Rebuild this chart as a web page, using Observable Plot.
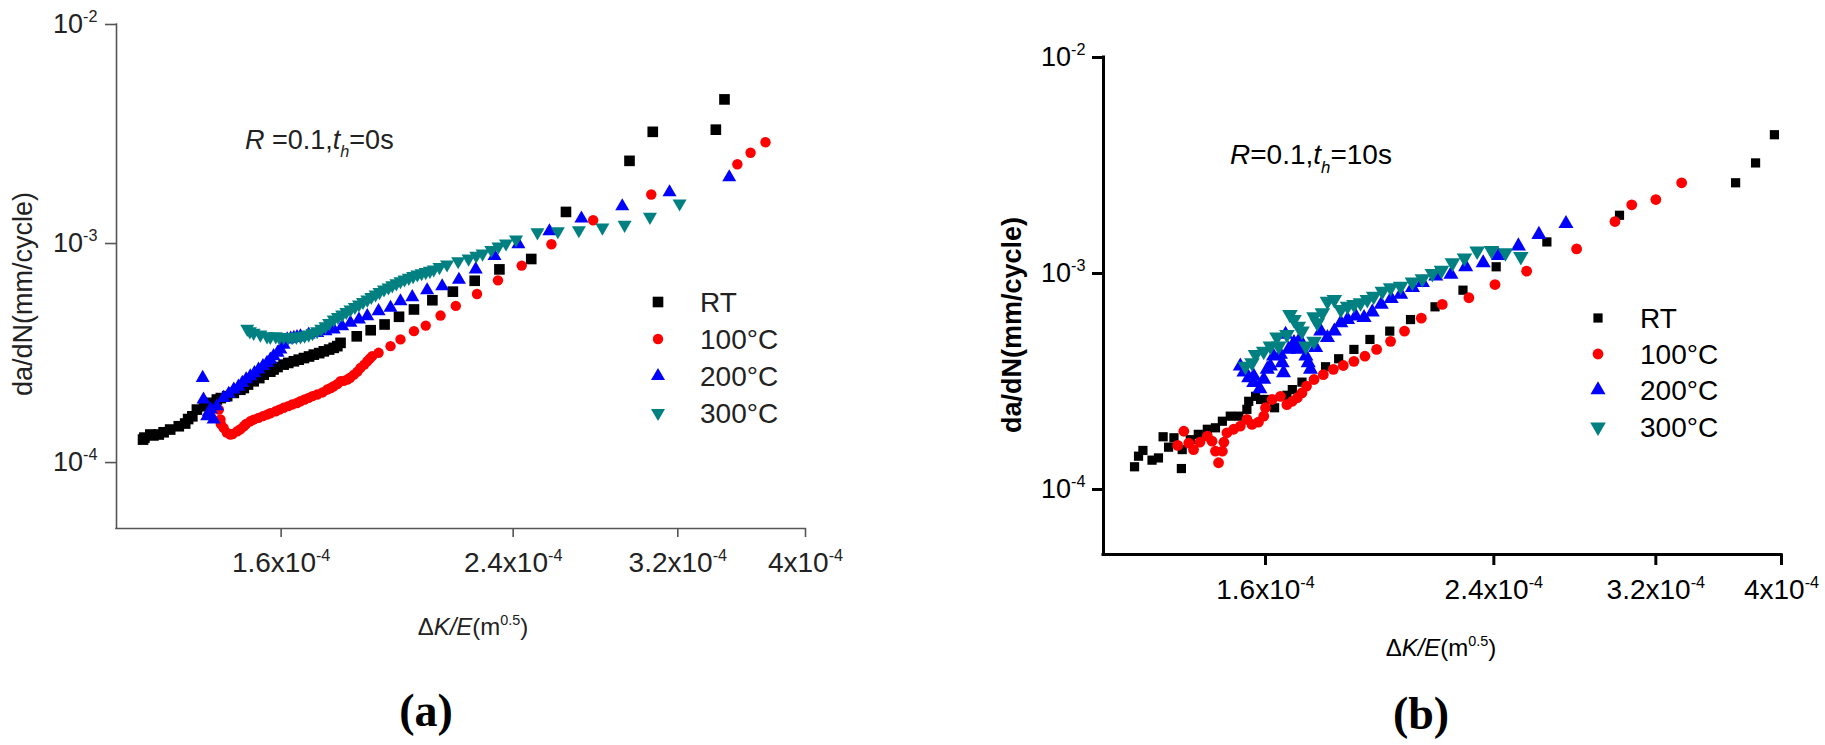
<!DOCTYPE html>
<html><head><meta charset="utf-8">
<script src="https://cdn.jsdelivr.net/npm/d3@7"></script>
<script src="https://cdn.jsdelivr.net/npm/@observablehq/plot@0.6"></script>
<style>
html,body{margin:0;padding:0;background:#fff;}
#wrap{position:relative;width:1825px;height:745px;overflow:hidden;background:#fff;}
#wrap svg{position:absolute;top:0;}
</style></head><body><div id="wrap"></div>
<script>
// ---------- shared settings ----------
const seriesNames = ["RT", "100°C", "200°C", "300°C"];
const seriesColors = ["#000000", "#ff0000", "#0000ff", "#008080"];
const seriesSymbols = ["square", "circle", "triangle", "triangle"];
const seriesRotate = [0, 0, 0, 180];
const xDomain = [1.2e-4, 4e-4];
const yDomain = [5e-5, 1e-2];
const xTicks = [1.6e-4, 2.4e-4, 3.2e-4, 4e-4];
const xTickLabels = ["1.6x10^-4", "2.4x10^-4", "3.2x10^-4", "4x10^-4"];
const yTicks = [1e-4, 1e-3, 1e-2];
const yTickLabels = ["10^-4", "10^-3", "10^-2"];

// ---------- panel (a): R=0.1, th=0s ----------  [ΔK/E, da/dN]
const aRT = [[1.257e-4,1.273e-4],[1.26e-4,1.30e-4],[1.273e-4,1.343e-4],[1.28e-4,1.33e-4],[1.292e-4,1.343e-4],[1.303e-4,1.375e-4],[1.318e-4,1.415e-4],[1.338e-4,1.465e-4],[1.353e-4,1.507e-4],[1.36e-4,1.58e-4],[1.370e-4,1.626e-4],[1.381e-4,1.745e-4],[1.398e-4,1.808e-4],[1.414e-4,1.874e-4],[1.430e-4,1.940e-4],[1.44e-4,1.97e-4],[1.456e-4,2.010e-4],[1.473e-4,2.080e-4],[1.49e-4,2.15e-4],[1.499e-4,2.190e-4],[1.51e-4,2.27e-4],[1.525e-4,2.350e-4],[1.54e-4,2.43e-4],[1.552e-4,2.520e-4],[1.57e-4,2.60e-4],[1.579e-4,2.660e-4],[1.59e-4,2.73e-4],[1.607e-4,2.800e-4],[1.62e-4,2.85e-4],[1.636e-4,2.900e-4],[1.65e-4,2.95e-4],[1.665e-4,3.000e-4],[1.68e-4,3.05e-4],[1.694e-4,3.110e-4],[1.71e-4,3.16e-4],[1.724e-4,3.220e-4],[1.74e-4,3.28e-4],[1.754e-4,3.340e-4],[1.765e-4,3.40e-4],[1.775e-4,3.520e-4],[1.826e-4,3.770e-4],[1.871e-4,4.020e-4],[1.917e-4,4.270e-4],[1.966e-4,4.630e-4],[2.018e-4,5.000e-4],[2.084e-4,5.510e-4],[2.160e-4,6.030e-4],[2.244e-4,6.760e-4],[2.343e-4,7.620e-4],[2.477e-4,8.500e-4],[2.632e-4,1.394e-3],[2.941e-4,2.385e-3],[3.063e-4,3.236e-3],[3.420e-4,3.310e-3],[3.472e-4,4.550e-3]];
const a100 = [[1.435e-4,1.745e-4],[1.439e-4,1.572e-4],[1.44e-4,1.50e-4],[1.447e-4,1.440e-4],[1.455e-4,1.37e-4],[1.464e-4,1.343e-4],[1.47e-4,1.35e-4],[1.482e-4,1.390e-4],[1.49e-4,1.42e-4],[1.499e-4,1.465e-4],[1.505e-4,1.50e-4],[1.516e-4,1.543e-4],[1.525e-4,1.57e-4],[1.538e-4,1.600e-4],[1.55e-4,1.63e-4],[1.561e-4,1.656e-4],[1.57e-4,1.68e-4],[1.585e-4,1.715e-4],[1.595e-4,1.745e-4],[1.607e-4,1.778e-4],[1.62e-4,1.81e-4],[1.631e-4,1.840e-4],[1.645e-4,1.87e-4],[1.655e-4,1.906e-4],[1.667e-4,1.94e-4],[1.679e-4,1.974e-4],[1.69e-4,2.01e-4],[1.704e-4,2.044e-4],[1.72e-4,2.09e-4],[1.734e-4,2.154e-4],[1.745e-4,2.19e-4],[1.754e-4,2.231e-4],[1.765e-4,2.28e-4],[1.775e-4,2.350e-4],[1.785e-4,2.36e-4],[1.796e-4,2.393e-4],[1.805e-4,2.44e-4],[1.817e-4,2.520e-4],[1.828e-4,2.60e-4],[1.838e-4,2.706e-4],[1.85e-4,2.80e-4],[1.860e-4,2.900e-4],[1.868e-4,2.98e-4],[1.876e-4,3.060e-4],[1.897e-4,3.170e-4],[1.937e-4,3.400e-4],[1.971e-4,3.650e-4],[2.018e-4,3.980e-4],[2.060e-4,4.220e-4],[2.114e-4,4.690e-4],[2.171e-4,5.190e-4],[2.253e-4,5.880e-4],[2.337e-4,6.790e-4],[2.436e-4,7.930e-4],[2.566e-4,9.930e-4],[2.760e-4,1.277e-3],[3.055e-4,1.674e-3],[3.551e-4,2.302e-3],[3.634e-4,2.596e-3],[3.730e-4,2.900e-3]];
const a200 = [[1.395e-4,2.436e-4],[1.397e-4,1.940e-4],[1.406e-4,1.627e-4],[1.41e-4,1.70e-4],[1.415e-4,1.75e-4],[1.422e-4,1.572e-4],[1.430e-4,1.807e-4],[1.447e-4,1.974e-4],[1.46e-4,2.06e-4],[1.473e-4,2.154e-4],[1.485e-4,2.22e-4],[1.495e-4,2.310e-4],[1.505e-4,2.40e-4],[1.516e-4,2.478e-4],[1.527e-4,2.56e-4],[1.538e-4,2.660e-4],[1.55e-4,2.76e-4],[1.561e-4,2.853e-4],[1.57e-4,2.95e-4],[1.579e-4,3.060e-4],[1.59e-4,3.17e-4],[1.598e-4,3.280e-4],[1.607e-4,3.45e-4],[1.617e-4,3.650e-4],[1.627e-4,3.68e-4],[1.636e-4,3.710e-4],[1.645e-4,3.74e-4],[1.655e-4,3.770e-4],[1.679e-4,3.840e-4],[1.704e-4,3.910e-4],[1.729e-4,3.980e-4],[1.754e-4,4.050e-4],[1.780e-4,4.190e-4],[1.806e-4,4.345e-4],[1.833e-4,4.500e-4],[1.860e-4,4.660e-4],[1.897e-4,4.910e-4],[1.937e-4,5.090e-4],[1.971e-4,5.450e-4],[2.012e-4,5.690e-4],[2.065e-4,6.120e-4],[2.120e-4,6.380e-4],[2.183e-4,6.830e-4],[2.248e-4,7.620e-4],[2.323e-4,8.770e-4],[2.422e-4,9.930e-4],[2.557e-4,1.138e-3],[2.704e-4,1.300e-3],[2.904e-4,1.480e-3],[3.154e-4,1.714e-3],[3.501e-4,2.007e-3]];
const a300 = [[1.508e-4,4.080e-4],[1.515e-4,3.97e-4],[1.525e-4,3.910e-4],[1.543e-4,3.840e-4],[1.561e-4,3.770e-4],[1.57e-4,3.75e-4],[1.585e-4,3.770e-4],[1.595e-4,3.73e-4],[1.607e-4,3.740e-4],[1.62e-4,3.73e-4],[1.631e-4,3.740e-4],[1.643e-4,3.75e-4],[1.655e-4,3.770e-4],[1.667e-4,3.80e-4],[1.679e-4,3.840e-4],[1.69e-4,3.90e-4],[1.704e-4,3.980e-4],[1.716e-4,4.08e-4],[1.729e-4,4.190e-4],[1.74e-4,4.33e-4],[1.754e-4,4.500e-4],[1.767e-4,4.62e-4],[1.780e-4,4.740e-4],[1.793e-4,4.87e-4],[1.806e-4,5.000e-4],[1.82e-4,5.13e-4],[1.833e-4,5.270e-4],[1.846e-4,5.41e-4],[1.860e-4,5.550e-4],[1.873e-4,5.70e-4],[1.887e-4,5.850e-4],[1.90e-4,6.0e-4],[1.915e-4,6.170e-4],[1.93e-4,6.3e-4],[1.943e-4,6.440e-4],[1.957e-4,6.58e-4],[1.971e-4,6.730e-4],[1.985e-4,6.85e-4],[2.000e-4,6.970e-4],[2.015e-4,7.1e-4],[2.030e-4,7.220e-4],[2.045e-4,7.32e-4],[2.060e-4,7.410e-4],[2.075e-4,7.5e-4],[2.089e-4,7.610e-4],[2.11e-4,7.8e-4],[2.138e-4,8.020e-4],[2.18e-4,8.3e-4],[2.220e-4,8.540e-4],[2.25e-4,8.8e-4],[2.275e-4,9.000e-4],[2.31e-4,9.35e-4],[2.339e-4,9.690e-4],[2.37e-4,1.0e-3],[2.412e-4,1.044e-3],[2.504e-4,1.125e-3],[2.595e-4,1.138e-3],[2.692e-4,1.150e-3],[2.805e-4,1.183e-3],[2.916e-4,1.217e-3],[3.048e-4,1.324e-3],[3.210e-4,1.523e-3]];

// ---------- panel (b): R=0.1, th=10s ----------
const bRT = [[1.268e-4,1.274e-4],[1.277e-4,1.426e-4],[1.287e-4,1.516e-4],[1.308e-4,1.367e-4],[1.323e-4,1.400e-4],[1.334e-4,1.754e-4],[1.347e-4,1.570e-4],[1.360e-4,1.735e-4],[1.378e-4,1.250e-4],[1.380e-4,1.530e-4],[1.400e-4,1.700e-4],[1.420e-4,1.800e-4],[1.443e-4,1.900e-4],[1.464e-4,1.930e-4],[1.482e-4,2.070e-4],[1.503e-4,2.185e-4],[1.526e-4,2.185e-4],[1.548e-4,2.350e-4],[1.553e-4,2.560e-4],[1.572e-4,2.700e-4],[1.586e-4,2.610e-4],[1.605e-4,2.610e-4],[1.626e-4,2.390e-4],[1.662e-4,2.730e-4],[1.678e-4,2.900e-4],[1.707e-4,3.140e-4],[1.780e-4,3.700e-4],[1.822e-4,4.030e-4],[1.872e-4,4.450e-4],[1.926e-4,4.950e-4],[1.995e-4,5.410e-4],[2.070e-4,6.120e-4],[2.162e-4,7.010e-4],[2.272e-4,8.370e-4],[2.410e-4,1.074e-3],[2.637e-4,1.400e-3],[3.000e-4,1.860e-3],[3.687e-4,2.630e-3],[3.820e-4,3.250e-3],[3.950e-4,4.390e-3]];
const b100 = [[1.369e-4,1.600e-4],[1.384e-4,1.860e-4],[1.396e-4,1.640e-4],[1.408e-4,1.530e-4],[1.424e-4,1.655e-4],[1.443e-4,1.766e-4],[1.455e-4,1.674e-4],[1.464e-4,1.504e-4],[1.472e-4,1.330e-4],[1.482e-4,1.504e-4],[1.486e-4,1.655e-4],[1.494e-4,1.830e-4],[1.512e-4,1.900e-4],[1.530e-4,1.965e-4],[1.548e-4,2.110e-4],[1.562e-4,2.000e-4],[1.580e-4,2.050e-4],[1.595e-4,2.185e-4],[1.600e-4,2.390e-4],[1.619e-4,2.610e-4],[1.643e-4,2.700e-4],[1.662e-4,2.470e-4],[1.678e-4,2.560e-4],[1.693e-4,2.660e-4],[1.707e-4,2.800e-4],[1.721e-4,3.010e-4],[1.744e-4,3.230e-4],[1.773e-4,3.400e-4],[1.805e-4,3.600e-4],[1.837e-4,3.750e-4],[1.872e-4,3.920e-4],[1.909e-4,4.140e-4],[1.949e-4,4.450e-4],[1.998e-4,4.850e-4],[2.048e-4,5.410e-4],[2.110e-4,6.210e-4],[2.190e-4,7.190e-4],[2.296e-4,7.720e-4],[2.405e-4,8.890e-4],[2.544e-4,1.025e-3],[2.780e-4,1.300e-3],[2.976e-4,1.740e-3],[3.066e-4,2.080e-3],[3.200e-4,2.200e-3],[3.350e-4,2.630e-3]];
const b200 = [[1.530e-4,3.720e-4],[1.540e-4,3.490e-4],[1.553e-4,3.290e-4],[1.567e-4,3.120e-4],[1.567e-4,3.346e-4],[1.584e-4,2.920e-4],[1.595e-4,3.230e-4],[1.605e-4,3.600e-4],[1.614e-4,3.720e-4],[1.623e-4,4.140e-4],[1.643e-4,4.220e-4],[1.648e-4,3.860e-4],[1.652e-4,3.470e-4],[1.658e-4,5.220e-4],[1.667e-4,4.450e-4],[1.683e-4,4.780e-4],[1.690e-4,4.600e-4],[1.696e-4,4.450e-4],[1.700e-4,4.950e-4],[1.719e-4,4.140e-4],[1.726e-4,3.860e-4],[1.733e-4,3.600e-4],[1.749e-4,4.530e-4],[1.765e-4,5.410e-4],[1.786e-4,5.040e-4],[1.808e-4,5.410e-4],[1.829e-4,5.910e-4],[1.851e-4,6.120e-4],[1.878e-4,6.350e-4],[1.906e-4,6.240e-4],[1.934e-4,6.620e-4],[1.965e-4,7.190e-4],[2.000e-4,7.640e-4],[2.034e-4,8.000e-4],[2.077e-4,8.590e-4],[2.114e-4,9.060e-4],[2.165e-4,9.720e-4],[2.224e-4,9.900e-4],[2.283e-4,1.074e-3],[2.355e-4,1.120e-3],[2.420e-4,1.210e-3],[2.507e-4,1.340e-3],[2.600e-4,1.515e-3],[2.728e-4,1.700e-3]];
const b300 = [[1.544e-4,3.720e-4],[1.562e-4,3.860e-4],[1.572e-4,4.220e-4],[1.595e-4,4.370e-4],[1.614e-4,4.610e-4],[1.633e-4,5.080e-4],[1.638e-4,4.610e-4],[1.662e-4,5.220e-4],[1.671e-4,6.460e-4],[1.683e-4,6.120e-4],[1.696e-4,5.700e-4],[1.707e-4,5.410e-4],[1.719e-4,4.610e-4],[1.744e-4,4.860e-4],[1.744e-4,6.300e-4],[1.754e-4,5.910e-4],[1.770e-4,6.580e-4],[1.786e-4,7.440e-4],[1.808e-4,7.580e-4],[1.829e-4,6.810e-4],[1.851e-4,7.060e-4],[1.872e-4,7.190e-4],[1.894e-4,7.320e-4],[1.917e-4,7.580e-4],[1.939e-4,7.850e-4],[1.969e-4,8.280e-4],[1.998e-4,8.590e-4],[2.034e-4,8.730e-4],[2.077e-4,9.120e-4],[2.114e-4,9.450e-4],[2.152e-4,1.000e-3],[2.187e-4,1.035e-3],[2.230e-4,1.120e-3],[2.278e-4,1.180e-3],[2.330e-4,1.270e-3],[2.390e-4,1.278e-3],[2.450e-4,1.247e-3],[2.518e-4,1.200e-3]];

// ---------- helpers ----------
function parseSup(str) {
  const m = str.split("^");
  return m.length > 1 ? [{t: m[0]}, {t: m[1], sup: true}] : [{t: str}];
}
function fillRich(sel, parts, fs) {
  sel.text(null);
  let shift = 0;
  parts.forEach(p => {
    const target = p.sup ? -0.42 * fs : p.sub ? 0.32 * fs : 0;
    const s = sel.append("tspan").text(p.t);
    if (target !== shift) s.attr("dy", target - shift);
    shift = target;
    if (p.sup || p.sub) s.attr("font-size", 0.6 * fs);
    if (p.i) s.attr("font-style", "italic");
  });
}
function addText(g, x, cy, parts, fs, o = {}) {
  const t = g.append("text")
    .attr("x", x).attr("y", cy + 0.36 * fs)
    .attr("font-size", fs)
    .attr("text-anchor", o.anchor || "start")
    .attr("fill", o.color || "#000");
  if (o.family) t.attr("font-family", o.family);
  if (o.weight) t.attr("font-weight", o.weight);
  if (o.rotate) t.attr("transform", `rotate(${o.rotate},${x},${cy})`);
  fillRich(t, parts, fs);
  return t;
}
const symTypes = {square: d3.symbolSquare, circle: d3.symbolCircle, triangle: d3.symbolTriangle};

function makePanel(p) {
  const xLab = new Map(xTicks.map((v, i) => [v, xTickLabels[i]]));
  const yLab = new Map(yTicks.map((v, i) => [v, yTickLabels[i]]));
  const marks = [];
  p.series.forEach((data, i) => {
    marks.push(Plot.dot(data, {
      x: d => d[0], y: d => d[1],
      symbol: seriesSymbols[i], rotate: seriesRotate[i],
      r: p.r[i], fill: seriesColors[i], stroke: "none"
    }));
  });
  marks.push(Plot.ruleX([xDomain[0]], {stroke: p.axisColor, strokeWidth: p.axisWidth, strokeLinecap: "square"}));
  marks.push(Plot.ruleY([yDomain[0]], {stroke: p.axisColor, strokeWidth: p.axisWidth, strokeLinecap: "square"}));
  marks.push(Plot.axisX(xTicks, {
    anchor: "bottom", tickSize: p.xTickSize, tickPadding: p.xPad,
    tickFormat: d => xLab.get(d), stroke: p.axisColor, strokeWidth: p.axisWidth,
    fill: p.textColor, fontSize: p.xFont, label: null
  }));
  marks.push(Plot.axisY(yTicks, {
    anchor: "left", tickSize: p.yTickSize, tickPadding: p.yPad,
    tickFormat: d => yLab.get(d), stroke: p.axisColor, strokeWidth: p.axisWidth,
    fill: p.textColor, fontSize: p.yFont, label: null
  }));
  const svg = Plot.plot({
    width: p.width, height: 745,
    marginLeft: p.ml, marginRight: p.mr, marginTop: p.mt, marginBottom: p.mb,
    x: {type: "log", domain: xDomain},
    y: {type: "log", domain: yDomain},
    style: {fontFamily: "'Liberation Sans', Arial, sans-serif", fontSize: "27px", background: "transparent", overflow: "visible", color: p.textColor},
    marks
  });
  svg.style.left = p.left + "px";
  const root = d3.select(svg);
  // superscripts in tick labels
  root.selectAll("text").each(function() {
    const s = d3.select(this);
    const txt = s.text();
    if (txt.includes("^")) {
      const fs = parseFloat(s.attr("font-size")) || parseFloat(getComputedStyle(this).fontSize) || 27;
      fillRich(s, parseSup(txt), fs);
    }
  });
  const g = root.append("g").attr("font-family", "'Liberation Sans', Arial, sans-serif");
  // axis titles
  addText(g, p.yTitle.x, p.yTitle.y, [{t: "da/dN(mm/cycle)"}], p.yTitle.fs, {anchor: "middle", rotate: -90, color: p.textColor, weight: p.yTitle.weight});
  addText(g, p.xTitle.x, p.xTitle.y, [{t: "\u0394"}, {t: "K/E", i: true}, {t: "(m"}, {t: "0.5", sup: true}, {t: ")"}], p.xTitle.fs, {anchor: "middle", color: p.textColor});
  // condition annotation
  addText(g, p.note.x, p.note.y, p.note.parts, p.note.fs, {color: p.textColor});
  // legend
  seriesNames.forEach((name, i) => {
    const cy = p.leg.rows[i];
    g.append("path")
      .attr("d", d3.symbol().type(symTypes[seriesSymbols[i]]).size(Math.PI * p.r[i] * p.r[i])())
      .attr("transform", `translate(${p.leg.sx},${cy}) rotate(${seriesRotate[i]})`)
      .attr("fill", seriesColors[i]);
    addText(g, p.leg.tx, cy, [{t: name}], p.leg.fs, {color: p.textColor});
  });
  // panel label
  addText(g, p.tag.x, p.tag.y, [{t: "("}, {t: p.tag.letter}, {t: ")"}], p.tag.fs, {anchor: "middle", family: "'Liberation Serif', 'Times New Roman', serif", weight: "bold", color: "#000"});
  return svg;
}

const wrap = document.getElementById("wrap");
wrap.appendChild(makePanel({
  left: 0, width: 880, ml: 116, mr: 75, mt: 24, mb: 217,
  series: [aRT, a100, a200, a300], r: [6, 5.2, 5.2, 5.2],
  axisColor: "#555", axisWidth: 1.6, textColor: "#222",
  xTickSize: 9, xPad: 15, xFont: 28, yTickSize: 11, yPad: 8, yFont: 27,
  yTitle: {x: 22, y: 294, fs: 27},
  xTitle: {x: 473, y: 626, fs: 24},
  note: {x: 245, y: 139, fs: 27, parts: [{t: "R", i: true}, {t: " =0.1,"}, {t: "t", i: true}, {t: "h", i: true, sub: true}, {t: "=0s"}]},
  leg: {sx: 658, tx: 700, rows: [302, 339, 376, 413], fs: 28},
  tag: {x: 426, y: 709, fs: 46, letter: "a"}
}));
wrap.appendChild(makePanel({
  left: 880, width: 945, ml: 223, mr: 44, mt: 57, mb: 191,
  series: [bRT, b100, b200, b300], r: [5.2, 5.4, 5.6, 5.8],
  axisColor: "#000", axisWidth: 3, textColor: "#000",
  xTickSize: 11, xPad: 14, xFont: 28, yTickSize: 11, yPad: 7, yFont: 27,
  yTitle: {x: 131, y: 325, fs: 27, weight: "bold"},
  xTitle: {x: 561, y: 647, fs: 24},
  note: {x: 350, y: 154, fs: 28, parts: [{t: "R", i: true}, {t: "=0.1,"}, {t: "t", i: true}, {t: "h", i: true, sub: true}, {t: "=10s"}]},
  leg: {sx: 718, tx: 760, rows: [318, 354, 390, 427], fs: 28},
  tag: {x: 541, y: 712, fs: 46, letter: "b"}
}));
</script>
</body></html>
